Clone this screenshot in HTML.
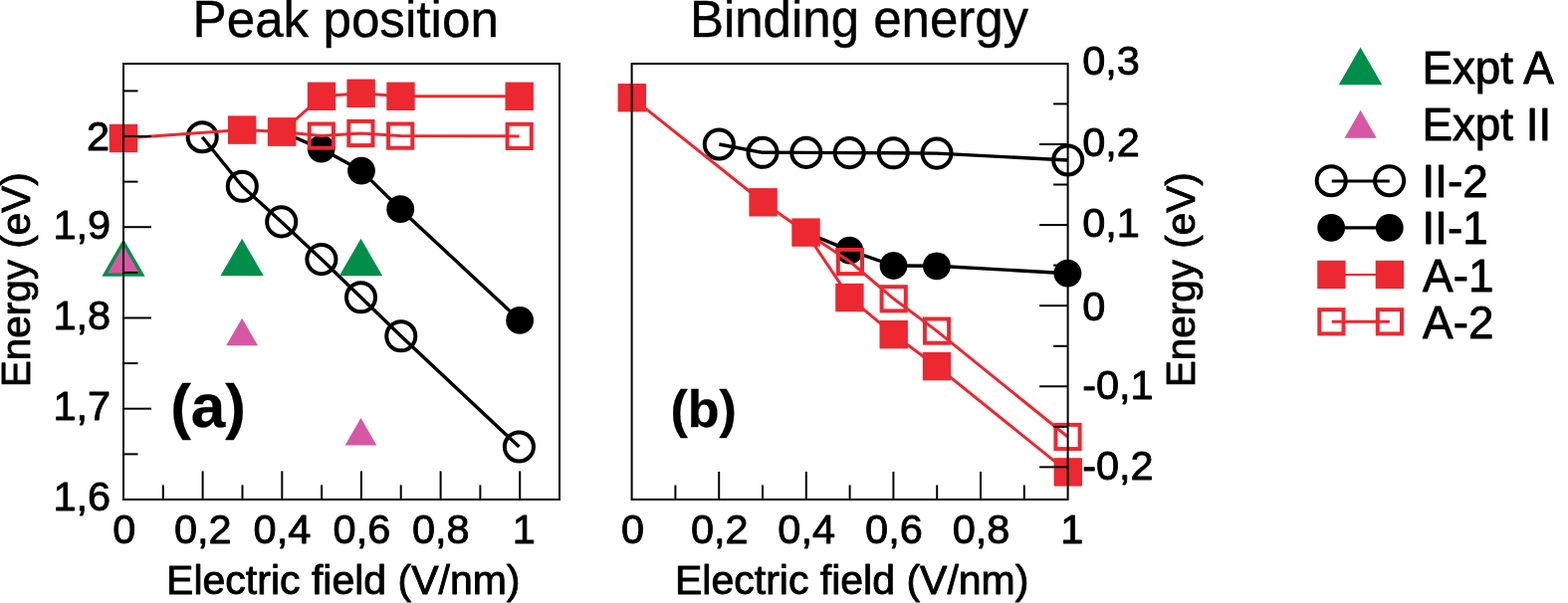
<!DOCTYPE html>
<html><head><meta charset="utf-8"><title>Peak position and binding energy</title>
<style>html,body{margin:0;padding:0;background:#fff;overflow:hidden}svg{display:block}</style>
</head><body>
<svg width="1575" height="606" viewBox="0 0 1575 606" font-family="'Liberation Sans', Arial, Helvetica, sans-serif">
<rect width="1575" height="606" fill="#fff"/>
<polyline points="203.2,137.7 243.3,187.3 282.7,222.9 322.9,260.6 362.5,298.8 402.8,337.8 521.4,449" fill="none" stroke="#000" stroke-width="3.4" stroke-linejoin="round" stroke-linecap="butt"/>
<polyline points="283.1,132.5 322.7,149.6 363,171.6 402.2,210.2 522.1,321.9" fill="none" stroke="#000" stroke-width="3.4" stroke-linejoin="round" stroke-linecap="butt"/>
<circle cx="203.2" cy="137.7" r="14.55" fill="none" stroke="#000" stroke-width="4.0"/>
<circle cx="243.3" cy="187.3" r="14.55" fill="none" stroke="#000" stroke-width="4.0"/>
<circle cx="282.7" cy="222.9" r="14.55" fill="none" stroke="#000" stroke-width="4.0"/>
<circle cx="322.9" cy="260.6" r="14.55" fill="none" stroke="#000" stroke-width="4.0"/>
<circle cx="362.5" cy="298.8" r="14.55" fill="none" stroke="#000" stroke-width="4.0"/>
<circle cx="402.8" cy="337.8" r="14.55" fill="none" stroke="#000" stroke-width="4.0"/>
<circle cx="521.4" cy="449" r="14.55" fill="none" stroke="#000" stroke-width="4.0"/>
<circle cx="322.7" cy="149.6" r="13.9" fill="#000"/>
<circle cx="363" cy="171.6" r="13.9" fill="#000"/>
<circle cx="402.2" cy="210.2" r="13.9" fill="#000"/>
<circle cx="522.1" cy="321.9" r="13.9" fill="#000"/>
<polygon points="124,240.14 102.3,277.73 145.7,277.73" fill="#008e4a"/>
<polygon points="243.1,239.74 221.4,277.33 264.8,277.33" fill="#008e4a"/>
<polygon points="362.5,239.74 340.8,277.33 384.2,277.33" fill="#008e4a"/>
<polygon points="124,246.94 108.1,274.48 139.9,274.48" fill="#d658a4"/>
<polygon points="243.1,319.64 227.2,347.18 259.0,347.18" fill="#d658a4"/>
<polygon points="362.5,419.94 346.6,447.48 378.4,447.48" fill="#d658a4"/>
<polyline points="124,139 243.2,130.6 283.1,132.5 323,96.8 362.6,93.8 402.5,96.8 521.7,96.8" fill="none" stroke="#ec2830" stroke-width="3.0" stroke-linejoin="round" stroke-linecap="butt"/>
<polyline points="283.1,132.5 322.8,136.6 362.4,134 402.2,136.6 521.7,136.9" fill="none" stroke="#ec2830" stroke-width="3.0" stroke-linejoin="round" stroke-linecap="butt"/>
<rect x="109.8" y="124.8" width="28.4" height="28.4" fill="#ec2830"/>
<rect x="229.0" y="116.4" width="28.4" height="28.4" fill="#ec2830"/>
<rect x="268.9" y="118.3" width="28.4" height="28.4" fill="#ec2830"/>
<rect x="308.8" y="82.6" width="28.4" height="28.4" fill="#ec2830"/>
<rect x="348.4" y="79.6" width="28.4" height="28.4" fill="#ec2830"/>
<rect x="388.3" y="82.6" width="28.4" height="28.4" fill="#ec2830"/>
<rect x="507.5" y="82.6" width="28.4" height="28.4" fill="#ec2830"/>
<rect x="271.0" y="120.4" width="24.2" height="24.2" fill="none" stroke="#ec2830" stroke-width="4.0"/>
<rect x="310.7" y="124.5" width="24.2" height="24.2" fill="none" stroke="#ec2830" stroke-width="4.0"/>
<rect x="350.3" y="121.9" width="24.2" height="24.2" fill="none" stroke="#ec2830" stroke-width="4.0"/>
<rect x="390.1" y="124.5" width="24.2" height="24.2" fill="none" stroke="#ec2830" stroke-width="4.0"/>
<rect x="509.6" y="124.8" width="24.2" height="24.2" fill="none" stroke="#ec2830" stroke-width="4.0"/>
<rect x="124" y="64" width="438" height="438" fill="none" stroke="#000" stroke-width="2"/>
<line x1="124" y1="502.0" x2="152" y2="502.0" stroke="#000" stroke-width="2"/>
<line x1="124" y1="456.4" x2="138.5" y2="456.4" stroke="#000" stroke-width="2"/>
<line x1="124" y1="410.7" x2="152" y2="410.7" stroke="#000" stroke-width="2"/>
<line x1="124" y1="365.1" x2="138.5" y2="365.1" stroke="#000" stroke-width="2"/>
<line x1="124" y1="319.5" x2="152" y2="319.5" stroke="#000" stroke-width="2"/>
<line x1="124" y1="273.9" x2="138.5" y2="273.9" stroke="#000" stroke-width="2"/>
<line x1="124" y1="228.2" x2="152" y2="228.2" stroke="#000" stroke-width="2"/>
<line x1="124" y1="182.6" x2="138.5" y2="182.6" stroke="#000" stroke-width="2"/>
<line x1="124" y1="137.0" x2="152" y2="137.0" stroke="#000" stroke-width="2"/>
<line x1="124" y1="91.4" x2="138.5" y2="91.4" stroke="#000" stroke-width="2"/>
<line x1="124.0" y1="502" x2="124.0" y2="473.4" stroke="#000" stroke-width="2"/>
<line x1="163.8" y1="502" x2="163.8" y2="487.4" stroke="#000" stroke-width="2"/>
<line x1="203.6" y1="502" x2="203.6" y2="473.4" stroke="#000" stroke-width="2"/>
<line x1="243.5" y1="502" x2="243.5" y2="487.4" stroke="#000" stroke-width="2"/>
<line x1="283.3" y1="502" x2="283.3" y2="473.4" stroke="#000" stroke-width="2"/>
<line x1="323.1" y1="502" x2="323.1" y2="487.4" stroke="#000" stroke-width="2"/>
<line x1="362.9" y1="502" x2="362.9" y2="473.4" stroke="#000" stroke-width="2"/>
<line x1="402.7" y1="502" x2="402.7" y2="487.4" stroke="#000" stroke-width="2"/>
<line x1="442.6" y1="502" x2="442.6" y2="473.4" stroke="#000" stroke-width="2"/>
<line x1="482.4" y1="502" x2="482.4" y2="487.4" stroke="#000" stroke-width="2"/>
<line x1="522.2" y1="502" x2="522.2" y2="473.4" stroke="#000" stroke-width="2"/>
<polyline points="722.3,145 766,153.3 809.8,153.4 853.2,153.6 897.3,153.8 941,154.1 1072.7,161" fill="none" stroke="#000" stroke-width="3.4" stroke-linejoin="round" stroke-linecap="butt"/>
<polyline points="809.5,233.6 853.3,251.6 897.5,267 940.9,267.3 1072.4,274.7" fill="none" stroke="#000" stroke-width="3.4" stroke-linejoin="round" stroke-linecap="butt"/>
<circle cx="722.3" cy="145" r="14.55" fill="none" stroke="#000" stroke-width="4.0"/>
<circle cx="766" cy="153.3" r="14.55" fill="none" stroke="#000" stroke-width="4.0"/>
<circle cx="809.8" cy="153.4" r="14.55" fill="none" stroke="#000" stroke-width="4.0"/>
<circle cx="853.2" cy="153.6" r="14.55" fill="none" stroke="#000" stroke-width="4.0"/>
<circle cx="897.3" cy="153.8" r="14.55" fill="none" stroke="#000" stroke-width="4.0"/>
<circle cx="941" cy="154.1" r="14.55" fill="none" stroke="#000" stroke-width="4.0"/>
<circle cx="1072.7" cy="161" r="14.55" fill="none" stroke="#000" stroke-width="4.0"/>
<circle cx="853.3" cy="251.6" r="13.9" fill="#000"/>
<circle cx="897.5" cy="267" r="13.9" fill="#000"/>
<circle cx="940.9" cy="267.3" r="13.9" fill="#000"/>
<circle cx="1072.4" cy="274.7" r="13.9" fill="#000"/>
<polyline points="634.8,98.2 766.6,203.3 809.5,233.6 853.4,299.1 897.7,336.2 941,368.2 1072.8,474.4" fill="none" stroke="#ec2830" stroke-width="3.0" stroke-linejoin="round" stroke-linecap="butt"/>
<polyline points="809.5,233.6 853.9,263 897.7,300.3 941,332.6 1072.5,439" fill="none" stroke="#ec2830" stroke-width="3.0" stroke-linejoin="round" stroke-linecap="butt"/>
<rect x="620.6" y="84.0" width="28.4" height="28.4" fill="#ec2830"/>
<rect x="752.4" y="189.1" width="28.4" height="28.4" fill="#ec2830"/>
<rect x="795.3" y="219.4" width="28.4" height="28.4" fill="#ec2830"/>
<rect x="839.2" y="284.9" width="28.4" height="28.4" fill="#ec2830"/>
<rect x="883.5" y="322.0" width="28.4" height="28.4" fill="#ec2830"/>
<rect x="926.8" y="354.0" width="28.4" height="28.4" fill="#ec2830"/>
<rect x="1058.6" y="460.2" width="28.4" height="28.4" fill="#ec2830"/>
<rect x="841.8" y="250.9" width="24.2" height="24.2" fill="none" stroke="#ec2830" stroke-width="4.0"/>
<rect x="885.6" y="288.2" width="24.2" height="24.2" fill="none" stroke="#ec2830" stroke-width="4.0"/>
<rect x="928.9" y="320.5" width="24.2" height="24.2" fill="none" stroke="#ec2830" stroke-width="4.0"/>
<rect x="1060.4" y="426.9" width="24.2" height="24.2" fill="none" stroke="#ec2830" stroke-width="4.0"/>
<rect x="634.6" y="64" width="437.9999999999999" height="438" fill="none" stroke="#000" stroke-width="2"/>
<line x1="1044.1" y1="469.4" x2="1072.6" y2="469.4" stroke="#000" stroke-width="2"/>
<line x1="1058.1" y1="428.9" x2="1072.6" y2="428.9" stroke="#000" stroke-width="2"/>
<line x1="1044.1" y1="388.3" x2="1072.6" y2="388.3" stroke="#000" stroke-width="2"/>
<line x1="1058.1" y1="347.8" x2="1072.6" y2="347.8" stroke="#000" stroke-width="2"/>
<line x1="1044.1" y1="307.2" x2="1072.6" y2="307.2" stroke="#000" stroke-width="2"/>
<line x1="1058.1" y1="266.6" x2="1072.6" y2="266.6" stroke="#000" stroke-width="2"/>
<line x1="1044.1" y1="226.1" x2="1072.6" y2="226.1" stroke="#000" stroke-width="2"/>
<line x1="1058.1" y1="185.5" x2="1072.6" y2="185.5" stroke="#000" stroke-width="2"/>
<line x1="1044.1" y1="145.0" x2="1072.6" y2="145.0" stroke="#000" stroke-width="2"/>
<line x1="1058.1" y1="104.4" x2="1072.6" y2="104.4" stroke="#000" stroke-width="2"/>
<line x1="678.4" y1="502" x2="678.4" y2="487.5" stroke="#000" stroke-width="2"/>
<line x1="722.2" y1="502" x2="722.2" y2="474" stroke="#000" stroke-width="2"/>
<line x1="766.0" y1="502" x2="766.0" y2="487.5" stroke="#000" stroke-width="2"/>
<line x1="809.8" y1="502" x2="809.8" y2="474" stroke="#000" stroke-width="2"/>
<line x1="853.6" y1="502" x2="853.6" y2="487.5" stroke="#000" stroke-width="2"/>
<line x1="897.4" y1="502" x2="897.4" y2="474" stroke="#000" stroke-width="2"/>
<line x1="941.2" y1="502" x2="941.2" y2="487.5" stroke="#000" stroke-width="2"/>
<line x1="985.0" y1="502" x2="985.0" y2="474" stroke="#000" stroke-width="2"/>
<line x1="1028.8" y1="502" x2="1028.8" y2="487.5" stroke="#000" stroke-width="2"/>
<text x="347.2" y="36.7" font-size="51.2" text-anchor="middle" font-weight="normal" stroke="#000" stroke-width="0.4" stroke-linejoin="round">Peak position</text>
<text x="863" y="36.9" font-size="51.0" text-anchor="middle" font-weight="normal" stroke="#000" stroke-width="0.4" stroke-linejoin="round">Binding energy</text>
<text x="111.1" y="239.7" font-size="41.5" text-anchor="end" font-weight="normal" stroke="#000" stroke-width="0.9" stroke-linejoin="round">1,9</text>
<text x="111.1" y="330.8" font-size="41.5" text-anchor="end" font-weight="normal" stroke="#000" stroke-width="0.9" stroke-linejoin="round">1,8</text>
<text x="111.1" y="422.2" font-size="41.5" text-anchor="end" font-weight="normal" stroke="#000" stroke-width="0.9" stroke-linejoin="round">1,7</text>
<text x="111.1" y="513" font-size="41.5" text-anchor="end" font-weight="normal" stroke="#000" stroke-width="0.9" stroke-linejoin="round">1,6</text>
<text x="110" y="151.2" font-size="41.5" text-anchor="end" font-weight="normal" stroke="#000" stroke-width="0.9" stroke-linejoin="round">2</text>
<text x="124.8" y="546.2" font-size="41.5" text-anchor="middle" font-weight="normal" stroke="#000" stroke-width="0.9" stroke-linejoin="round">0</text>
<text x="203.8" y="546.2" font-size="41.5" text-anchor="middle" font-weight="normal" stroke="#000" stroke-width="0.9" stroke-linejoin="round">0,2</text>
<text x="283.4" y="546.2" font-size="41.5" text-anchor="middle" font-weight="normal" stroke="#000" stroke-width="0.9" stroke-linejoin="round">0,4</text>
<text x="363.4" y="546.2" font-size="41.5" text-anchor="middle" font-weight="normal" stroke="#000" stroke-width="0.9" stroke-linejoin="round">0,6</text>
<text x="442.8" y="546.2" font-size="41.5" text-anchor="middle" font-weight="normal" stroke="#000" stroke-width="0.9" stroke-linejoin="round">0,8</text>
<text x="526.4" y="546.2" font-size="41.5" text-anchor="middle" font-weight="normal" stroke="#000" stroke-width="0.9" stroke-linejoin="round">1</text>
<text x="635.6" y="546.2" font-size="41.5" text-anchor="middle" font-weight="normal" stroke="#000" stroke-width="0.9" stroke-linejoin="round">0</text>
<text x="722.8" y="546.2" font-size="41.5" text-anchor="middle" font-weight="normal" stroke="#000" stroke-width="0.9" stroke-linejoin="round">0,2</text>
<text x="810.2" y="546.2" font-size="41.5" text-anchor="middle" font-weight="normal" stroke="#000" stroke-width="0.9" stroke-linejoin="round">0,4</text>
<text x="897.9" y="546.2" font-size="41.5" text-anchor="middle" font-weight="normal" stroke="#000" stroke-width="0.9" stroke-linejoin="round">0,6</text>
<text x="985.5" y="546.2" font-size="41.5" text-anchor="middle" font-weight="normal" stroke="#000" stroke-width="0.9" stroke-linejoin="round">0,8</text>
<text x="1076.9" y="546.2" font-size="41.5" text-anchor="middle" font-weight="normal" stroke="#000" stroke-width="0.9" stroke-linejoin="round">1</text>
<text x="1087.2" y="75.4" font-size="41.5" text-anchor="start" font-weight="normal" stroke="#000" stroke-width="0.9" stroke-linejoin="round">0,3</text>
<text x="1087.2" y="156.8" font-size="41.5" text-anchor="start" font-weight="normal" stroke="#000" stroke-width="0.9" stroke-linejoin="round">0,2</text>
<text x="1087.2" y="238" font-size="41.5" text-anchor="start" font-weight="normal" stroke="#000" stroke-width="0.9" stroke-linejoin="round">0,1</text>
<text x="1087.2" y="321.8" font-size="41.5" text-anchor="start" font-weight="normal" stroke="#000" stroke-width="0.9" stroke-linejoin="round">0</text>
<text x="1087.2" y="400.5" font-size="41.5" text-anchor="start" font-weight="normal" stroke="#000" stroke-width="0.9" stroke-linejoin="round">-0,1</text>
<text x="1087.2" y="481.5" font-size="41.5" text-anchor="start" font-weight="normal" stroke="#000" stroke-width="0.9" stroke-linejoin="round">-0,2</text>
<text x="344.8" y="596.8" font-size="41" text-anchor="middle" font-weight="normal" stroke="#000" stroke-width="0.9" stroke-linejoin="round">Electric field (V/nm)</text>
<text x="855.7" y="596.8" font-size="41" text-anchor="middle" font-weight="normal" stroke="#000" stroke-width="0.9" stroke-linejoin="round">Electric field (V/nm)</text>
<text x="0" y="0" font-size="40.5" text-anchor="middle" font-weight="normal" stroke="#000" stroke-width="0.9" stroke-linejoin="round" transform="translate(30.3,281.3) rotate(-90)">Energy (eV)</text>
<text x="0" y="0" font-size="40.5" text-anchor="middle" font-weight="normal" stroke="#000" stroke-width="0.9" stroke-linejoin="round" transform="translate(1200.2,281.3) rotate(-90)">Energy (eV)</text>
<text x="209.1" y="428.8" font-size="62" text-anchor="middle" font-weight="bold" stroke="#000" stroke-width="0.3" stroke-linejoin="round">(a)</text>
<text x="706.7" y="428.8" font-size="52" text-anchor="middle" font-weight="bold" stroke="#000" stroke-width="0.3" stroke-linejoin="round">(b)</text>
<polygon points="1366.5,47.53 1344.7,85.29 1388.3,85.29" fill="#008e4a"/>
<polygon points="1366.6,110.81 1350.5,138.7 1382.6999999999998,138.7" fill="#d658a4"/>
<circle cx="1337.25" cy="181.7" r="14.55" fill="none" stroke="#000" stroke-width="4.0"/>
<circle cx="1395.6" cy="181.7" r="14.55" fill="none" stroke="#000" stroke-width="4.0"/>
<line x1="1337.8" y1="182" x2="1395.8" y2="182" stroke="#000" stroke-width="3.2"/>
<line x1="1337.4" y1="228.8" x2="1395.8" y2="228.8" stroke="#000" stroke-width="3.2"/>
<circle cx="1337.2" cy="228.8" r="13.9" fill="#000"/>
<circle cx="1395.8" cy="228.8" r="13.9" fill="#000"/>
<line x1="1337.4" y1="276" x2="1395.8" y2="276" stroke="#ec2830" stroke-width="2.2"/>
<rect x="1323.2" y="261.8" width="28.4" height="28.4" fill="#ec2830"/>
<rect x="1381.7" y="261.8" width="28.4" height="28.4" fill="#ec2830"/>
<rect x="1325.3" y="311.2" width="24.2" height="24.2" fill="none" stroke="#ec2830" stroke-width="4.0"/>
<rect x="1383.8" y="311.2" width="24.2" height="24.2" fill="none" stroke="#ec2830" stroke-width="4.0"/>
<line x1="1337.7" y1="323.3" x2="1395.8" y2="323.3" stroke="#ec2830" stroke-width="3"/>
<text x="1428.4" y="83.9" font-size="45.8" text-anchor="start" font-weight="normal" stroke="#000" stroke-width="0.9" stroke-linejoin="round">Expt A</text>
<text x="1428.4" y="140.6" font-size="45.8" text-anchor="start" font-weight="normal" stroke="#000" stroke-width="0.9" stroke-linejoin="round">Expt II</text>
<text x="1428.6" y="197.9" font-size="45.8" text-anchor="start" font-weight="normal" stroke="#000" stroke-width="0.9" stroke-linejoin="round">II-2</text>
<text x="1428.6" y="245.4" font-size="45.8" text-anchor="start" font-weight="normal" stroke="#000" stroke-width="0.9" stroke-linejoin="round">II-1</text>
<text x="1429.1" y="292.6" font-size="45.8" text-anchor="start" font-weight="normal" stroke="#000" stroke-width="0.9" stroke-linejoin="round">A-1</text>
<text x="1429.1" y="339.9" font-size="45.8" text-anchor="start" font-weight="normal" stroke="#000" stroke-width="0.9" stroke-linejoin="round">A-2</text>
</svg>
</body></html>
